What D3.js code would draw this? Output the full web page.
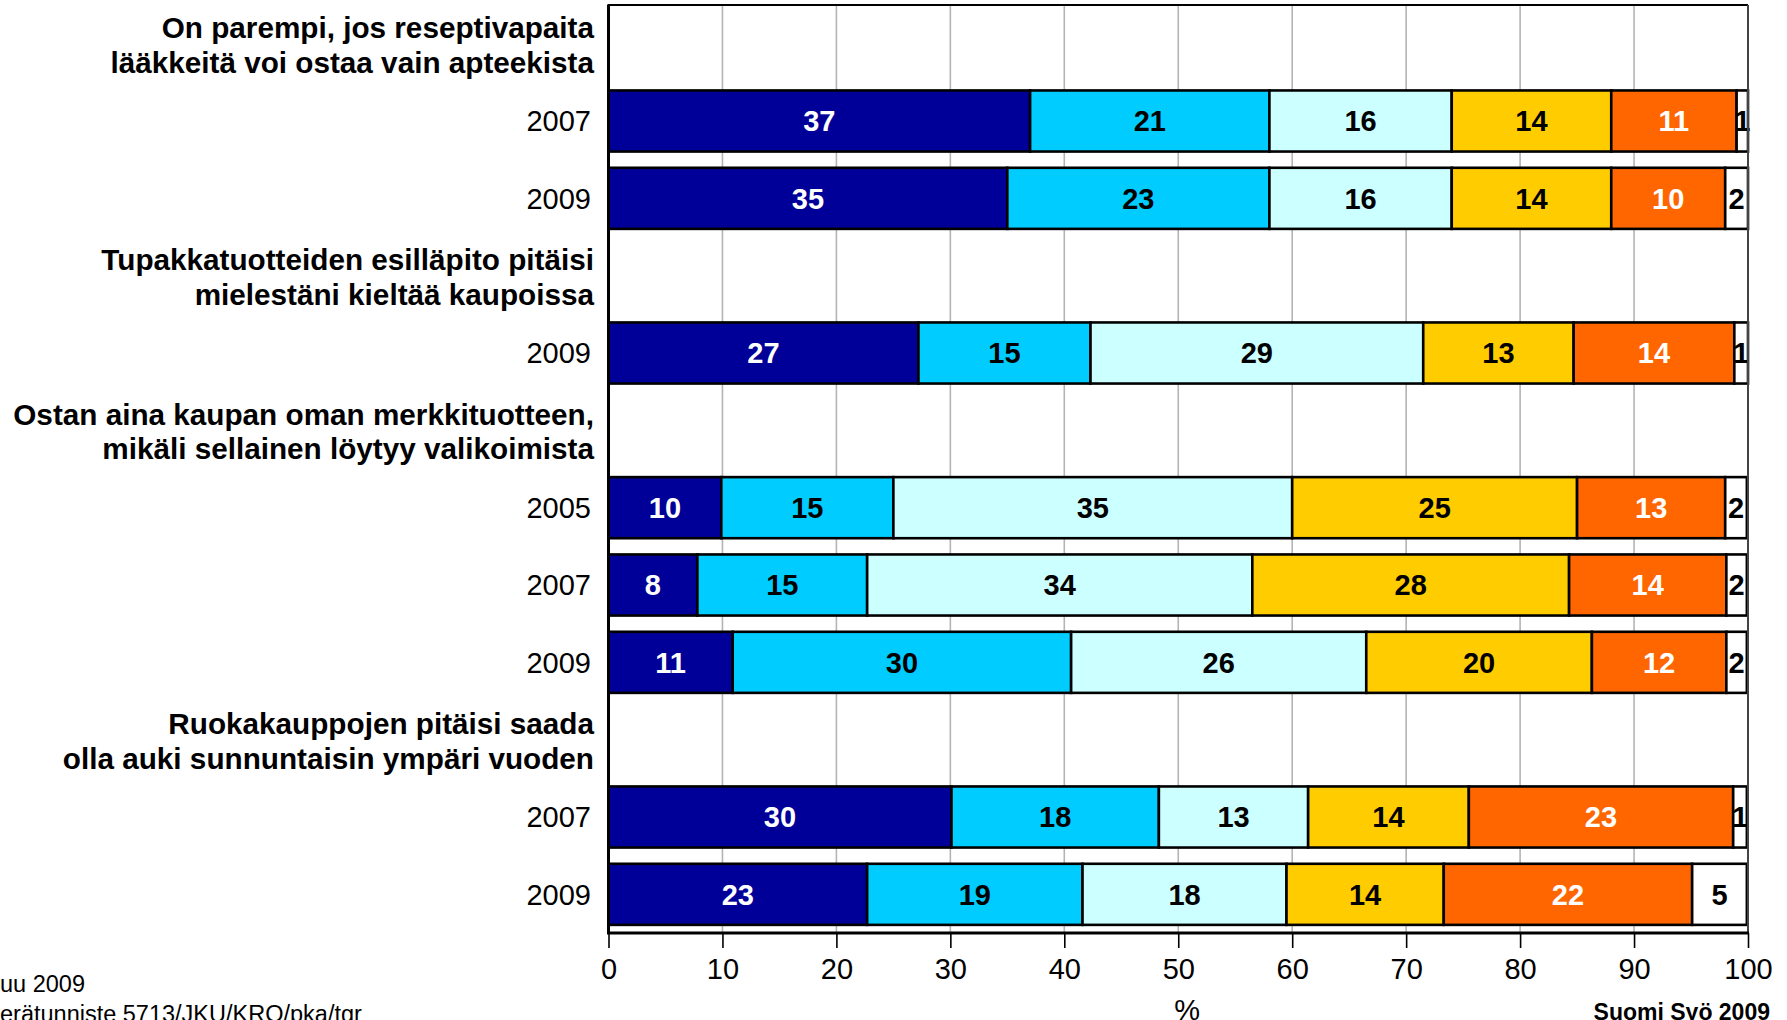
<!DOCTYPE html>
<html><head><meta charset="utf-8">
<script src="https://cdn.jsdelivr.net/npm/d3@7"></script>
<style>
body{margin:0;background:#fff;overflow:hidden}
svg{display:block}
text{font-family:Arial,"Liberation Sans",sans-serif}
</style>
</head><body>
<svg id="chart" width="1787" height="1020"></svg>
<script>
// ---- data ----
const statements = [
  ["On parempi, jos reseptivapaita", "lääkkeitä voi ostaa vain apteekista"],
  ["Tupakkatuotteiden esilläpito pitäisi", "mielestäni kieltää kaupoissa"],
  ["Ostan aina kaupan oman merkkituotteen,", "mikäli sellainen löytyy valikoimista"],
  ["Ruokakauppojen pitäisi saada", "olla auki sunnuntaisin ympäri vuoden"]
];
const barStatement = [0, 0, 1, 2, 2, 2, 3, 3];
const barYears = ["2007", "2009", "2009", "2005", "2007", "2009", "2007", "2009"];
const responses = ["Täysin samaa mieltä", "Jokseenkin samaa mieltä", "Ei samaa eikä eri mieltä",
                   "Jokseenkin eri mieltä", "Täysin eri mieltä", "En osaa sanoa"];
const taysinSamaa     = [37, 35, 27.2,  9.9,  7.8, 10.9, 30.1, 22.7];
const jokseenkinSamaa = [21, 23, 15.1, 15.1, 14.9, 29.7, 18.2, 18.9];
const eiSamaaEiEri    = [16, 16, 29.2, 35.0, 33.8, 25.9, 13.1, 17.9];
const jokseenkinEri   = [14, 14, 13.2, 25.0, 27.8, 19.8, 14.1, 13.8];
const taysinEri       = [11, 10, 14.1, 13.0, 13.8, 11.8, 23.2, 21.8];
const enOsaa          = [ 1,  2,  1.2,  1.9,  1.8,  1.8,  1.2,  4.8];
const xTicks = [0, 10, 20, 30, 40, 50, 60, 70, 80, 90, 100];
const axisTitle = "%";
const sourceText = "Suomi Syö 2009";
const footLines = ["uu 2009", "erätunniste 5713/JKU/KRO/pka/tgr"];

const seriesValues = [taysinSamaa, jokseenkinSamaa, eiSamaaEiEri, jokseenkinEri, taysinEri, enOsaa];
const colors = ["#000099", "#00CCFF", "#CCFFFF", "#FFCC00", "#FF6600", "#FFFFFF"];
const labelColors = ["#FFFFFF", "#000000", "#000000", "#000000", "#FFFFFF", "#000000"];

// ---- build rows: header row then bar rows ----
const rows = [];
statements.forEach((st, si) => {
  rows.push({type: "h", si, key: "h" + si});
  barYears.forEach((yr, bi) => {
    if (barStatement[bi] === si) rows.push({type: "b", bi, key: "b" + bi, year: yr});
  });
});

const svg = d3.select("#chart");
const L = 608.5, R = 1748, T = 5, B = 933;

const x = d3.scaleLinear().domain([0, 100]).range([L, R]);
const y = d3.scaleBand().domain(rows.map(r => r.key)).range([T, B]).paddingInner(0.21).paddingOuter(0.105);
const step = y.step();

// gridlines
svg.append("g").selectAll("line").data(xTicks.filter(t => t > 0 && t < 100)).join("line")
  .attr("x1", d => x(d)).attr("x2", d => x(d)).attr("y1", T).attr("y2", B)
  .attr("stroke", "#b4b4b4").attr("stroke-width", 1.6);

// bars
const barRows = rows.filter(r => r.type === "b");
const segs = [];
barRows.forEach(r => {
  let acc = 0;
  seriesValues.forEach((arr, k) => {
    const v = arr[r.bi];
    segs.push({key: r.key, k, x0: acc, x1: acc + v, v});
    acc += v;
  });
});

const gb = svg.append("g");
gb.selectAll("rect").data(segs).join("rect")
  .attr("x", d => x(d.x0)).attr("width", d => x(d.x1) - x(d.x0))
  .attr("y", d => y(d.key)).attr("height", y.bandwidth())
  .attr("fill", d => colors[d.k]).attr("stroke", "#000").attr("stroke-width", 2.6);

gb.selectAll("text").data(segs).join("text")
  .attr("x", d => (x(d.x0) + x(d.x1)) / 2)
  .attr("y", d => y(d.key) + y.bandwidth() / 2)
  .attr("dy", "0.36em")
  .attr("text-anchor", "middle")
  .attr("font-size", 29).attr("font-weight", "bold")
  .attr("fill", d => labelColors[d.k])
  .text(d => Math.round(d.v));

// frame
svg.append("line").attr("x1", L - 1).attr("x2", R).attr("y1", T).attr("y2", T).attr("stroke", "#000").attr("stroke-width", 2.2);
svg.append("line").attr("x1", L).attr("x2", L).attr("y1", T).attr("y2", B + 1).attr("stroke", "#000").attr("stroke-width", 3);
svg.append("line").attr("x1", R).attr("x2", R).attr("y1", T).attr("y2", B).attr("stroke", "#444").attr("stroke-width", 2);

// x axis
const xAxis = d3.axisBottom(x).tickValues(xTicks).tickSize(15).tickPadding(10).tickFormat(d3.format("d"));
const ga = svg.append("g").attr("transform", `translate(0,${B})`).call(xAxis);
ga.select(".domain").attr("stroke", "#000").attr("stroke-width", 3.2).attr("d", `M${L - 1.5},0H${R + 1}`);
ga.selectAll(".tick line").attr("stroke", "#000").attr("stroke-width", 1.6);
ga.selectAll(".tick text").attr("font-size", 29).attr("fill", "#000")
  .attr("font-family", "Arial, 'Liberation Sans', sans-serif");

// year labels
svg.append("g").selectAll("text").data(barRows).join("text")
  .attr("x", 591).attr("y", d => y(d.key) + y.bandwidth() / 2).attr("dy", "0.36em")
  .attr("text-anchor", "end").attr("font-size", 29).attr("fill", "#000")
  .text(d => d.year);

// statement headers
const hdr = svg.append("g").selectAll("text").data(rows.filter(r => r.type === "h")).join("text")
  .attr("text-anchor", "end").attr("font-size", 29.7).attr("font-weight", "bold").attr("fill", "#000")
  .attr("transform", d => `translate(594,${y(d.key) - step * 0.105 + step / 2 + 1})`);
hdr.selectAll("tspan").data(d => statements[d.si]).join("tspan")
  .attr("x", 0).attr("y", (d, i) => (i - 0.5) * 34.5).attr("dy", "0.36em").text(d => d);

// axis title, source, footer
svg.append("text").attr("x", x(50) + 9).attr("y", 1020).attr("text-anchor", "middle")
  .attr("font-size", 29).attr("fill", "#000").text(axisTitle);
svg.append("text").attr("x", 1770).attr("y", 1020).attr("text-anchor", "end")
  .attr("font-size", 23).attr("font-weight", "bold").attr("fill", "#000").text(sourceText);
svg.append("g").selectAll("text").data(footLines).join("text")
  .attr("x", 0).attr("y", (d, i) => 992 + i * 30)
  .attr("font-size", 23.5).attr("fill", "#000").text(d => d);
</script>
</body></html>
